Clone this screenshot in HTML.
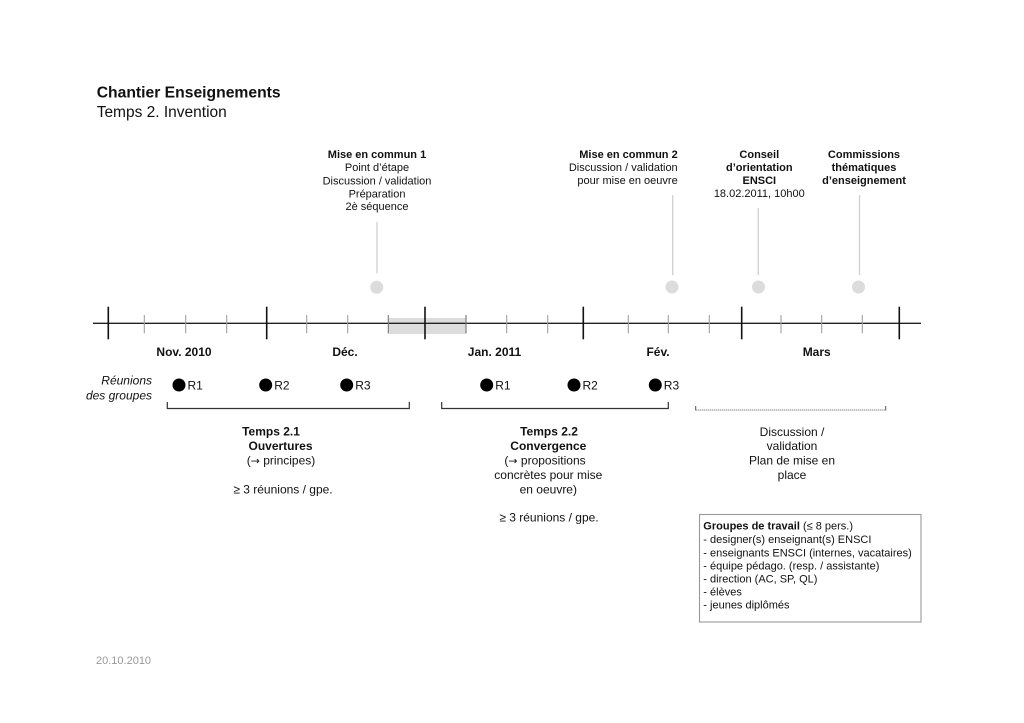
<!DOCTYPE html>
<html><head><meta charset="utf-8"><style>
html,body{margin:0;padding:0;background:#fff;}
svg{display:block;}
text{font-family:"Liberation Sans",Arial,sans-serif;fill:#111;}
.b{font-weight:bold;}
.s11{font-size:11px;}
.s12{font-size:12px;}
.ar{font-family:"DejaVu Sans",sans-serif;font-size:11px;}
</style></head><body>
<svg width="1024" height="723" viewBox="0 0 1024 723" xmlns="http://www.w3.org/2000/svg">
<rect width="1024" height="723" fill="#fff"/>
<!-- title -->
<text x="96.7" y="97.3" class="b" style="font-size:15.7px">Chantier Enseignements</text>
<text x="96.7" y="117" style="font-size:15.5px">Temps 2. Invention</text>

<!-- top annotations -->
<g class="s11" text-anchor="middle">
<text x="377" y="158" class="b">Mise en commun 1</text>
<text x="377" y="171">Point d’étape</text>
<text x="377" y="184.3">Discussion / validation</text>
<text x="377" y="197.3">Préparation</text>
<text x="377" y="210">2è séquence</text>
</g>
<g class="s11" text-anchor="end">
<text x="677.7" y="158" class="b">Mise en commun 2</text>
<text x="677.7" y="171">Discussion / validation</text>
<text x="677.7" y="184">pour mise en oeuvre</text>
</g>
<g class="s11" text-anchor="middle">
<text x="759.3" y="158" class="b">Conseil</text>
<text x="759.3" y="171" class="b">d’orientation</text>
<text x="759.3" y="184" class="b">ENSCI</text>
<text x="759.3" y="197">18.02.2011, 10h00</text>
<text x="864" y="158" class="b">Commissions</text>
<text x="864" y="171" class="b">thématiques</text>
<text x="864" y="184" class="b">d’enseignement</text>
</g>

<!-- connector lines and dots -->
<g stroke="#cfcfcf" stroke-width="1.3">
<line x1="377" y1="221.7" x2="377" y2="273.3"/>
<line x1="672.7" y1="195" x2="672.7" y2="275"/>
<line x1="758.3" y1="208" x2="758.3" y2="275"/>
<line x1="859.5" y1="195" x2="859.5" y2="275"/>
</g>
<g fill="#dcdcdc">
<circle cx="376.7" cy="287.3" r="6.5"/>
<circle cx="672" cy="287" r="6.5"/>
<circle cx="758.5" cy="287" r="6.5"/>
<circle cx="858.5" cy="287" r="6.5"/>
</g>

<!-- timeline -->
<rect x="388.3" y="318" width="77.7" height="16" fill="#dcdcdc"/>
<line x1="93" y1="323.3" x2="921" y2="323.3" stroke="#222" stroke-width="1.4"/>
<g stroke="#a0a0a0" stroke-width="1.1">
<line x1="144.3" y1="315" x2="144.3" y2="333.3"/>
<line x1="185.7" y1="315" x2="185.7" y2="333.3"/>
<line x1="226.7" y1="315" x2="226.7" y2="333.3"/>
<line x1="306.7" y1="315" x2="306.7" y2="333.3"/>
<line x1="347.7" y1="315" x2="347.7" y2="333.3"/>
<line x1="388.3" y1="315" x2="388.3" y2="333.3" stroke="#777"/>
<line x1="466" y1="315" x2="466" y2="333.3" stroke="#777"/>
<line x1="506.7" y1="315" x2="506.7" y2="333.3"/>
<line x1="547.7" y1="315" x2="547.7" y2="333.3"/>
<line x1="628.3" y1="315" x2="628.3" y2="333.3"/>
<line x1="668.3" y1="315" x2="668.3" y2="333.3"/>
<line x1="709.3" y1="315" x2="709.3" y2="333.3"/>
<line x1="781" y1="315" x2="781" y2="333.3"/>
<line x1="821.7" y1="315" x2="821.7" y2="333.3"/>
<line x1="862.3" y1="315" x2="862.3" y2="333.3"/>
</g>
<g stroke="#111" stroke-width="1.6">
<line x1="108.3" y1="306.7" x2="108.3" y2="339.3"/>
<line x1="266.7" y1="306.7" x2="266.7" y2="339.3"/>
<line x1="425" y1="306.7" x2="425" y2="339.3"/>
<line x1="583.3" y1="306.7" x2="583.3" y2="339.3"/>
<line x1="741.7" y1="306.7" x2="741.7" y2="339.3"/>
<line x1="899.3" y1="306.7" x2="899.3" y2="339.3"/>
</g>
<g class="s12 b" text-anchor="middle">
<text x="184" y="356">Nov. 2010</text>
<text x="345" y="356">Déc.</text>
<text x="494.5" y="356">Jan. 2011</text>
<text x="658" y="356">Fév.</text>
<text x="816.7" y="356">Mars</text>
</g>

<!-- réunions -->
<g class="s12" text-anchor="end" font-style="italic">
<text x="152" y="384.5">Réunions</text>
<text x="152" y="399.5">des groupes</text>
</g>
<g fill="#000">
<circle cx="179" cy="385" r="6.5"/>
<circle cx="265.7" cy="385" r="6.5"/>
<circle cx="346.7" cy="385" r="6.5"/>
<circle cx="486.7" cy="385" r="6.5"/>
<circle cx="574" cy="385" r="6.5"/>
<circle cx="655.3" cy="385" r="6.5"/>
</g>
<g class="s12">
<text x="187.5" y="389.5">R1</text>
<text x="274.2" y="389.5">R2</text>
<text x="355.2" y="389.5">R3</text>
<text x="495.2" y="389.5">R1</text>
<text x="582.5" y="389.5">R2</text>
<text x="663.8" y="389.5">R3</text>
</g>

<!-- brackets -->
<g fill="none" stroke="#333" stroke-width="1.2">
<polyline points="167.3,402 167.3,408.5 409.3,408.5 409.3,402"/>
<polyline points="441.7,402 441.7,408.5 668.3,408.5 668.3,402"/>
</g>
<g fill="none" stroke="#555" stroke-width="1">
<line x1="695.7" y1="410" x2="885.7" y2="410" stroke-dasharray="1,1"/>
<line x1="695.7" y1="406" x2="695.7" y2="410.5"/>
<line x1="885.7" y1="406" x2="885.7" y2="410.5"/>
</g>

<!-- bottom text -->
<g class="s12" text-anchor="middle">
<text x="271" y="435.5" class="b">Temps 2.1</text>
<text x="280.5" y="450" class="b">Ouvertures</text>
<text x="281" y="464.5">(<tspan class="ar">→</tspan> principes)</text>
<text x="283" y="493.5">≥ 3 réunions / gpe.</text>

<text x="549" y="435.5" class="b">Temps 2.2</text>
<text x="548.3" y="450" class="b">Convergence</text>
<text x="545" y="464.5">(<tspan class="ar">→</tspan> propositions</text>
<text x="548.3" y="479">concrètes pour mise</text>
<text x="548.3" y="493.3">en oeuvre)</text>
<text x="549" y="521.5">≥ 3 réunions / gpe.</text>

<text x="792" y="436">Discussion /</text>
<text x="792" y="450">validation</text>
<text x="792" y="464.5">Plan de mise en</text>
<text x="792" y="479">place</text>
</g>

<!-- box -->
<rect x="699.5" y="514.5" width="221.5" height="107.5" fill="none" stroke="#999" stroke-width="1.1"/>
<g class="s11">
<text x="703.3" y="529.7"><tspan class="b">Groupes de travail</tspan> (≤ 8 pers.)</text>
<text x="703.3" y="543">- designer(s) enseignant(s) ENSCI</text>
<text x="703.3" y="556.3">- enseignants ENSCI (internes, vacataires)</text>
<text x="703.3" y="569.3">- équipe pédago. (resp. / assistante)</text>
<text x="703.3" y="582.5">- direction (AC, SP, QL)</text>
<text x="703.3" y="595.5">- élèves</text>
<text x="703.3" y="608.5">- jeunes diplômés</text>
</g>

<text x="96" y="664" class="s11" style="fill:#999">20.10.2010</text>
</svg>
</body></html>
